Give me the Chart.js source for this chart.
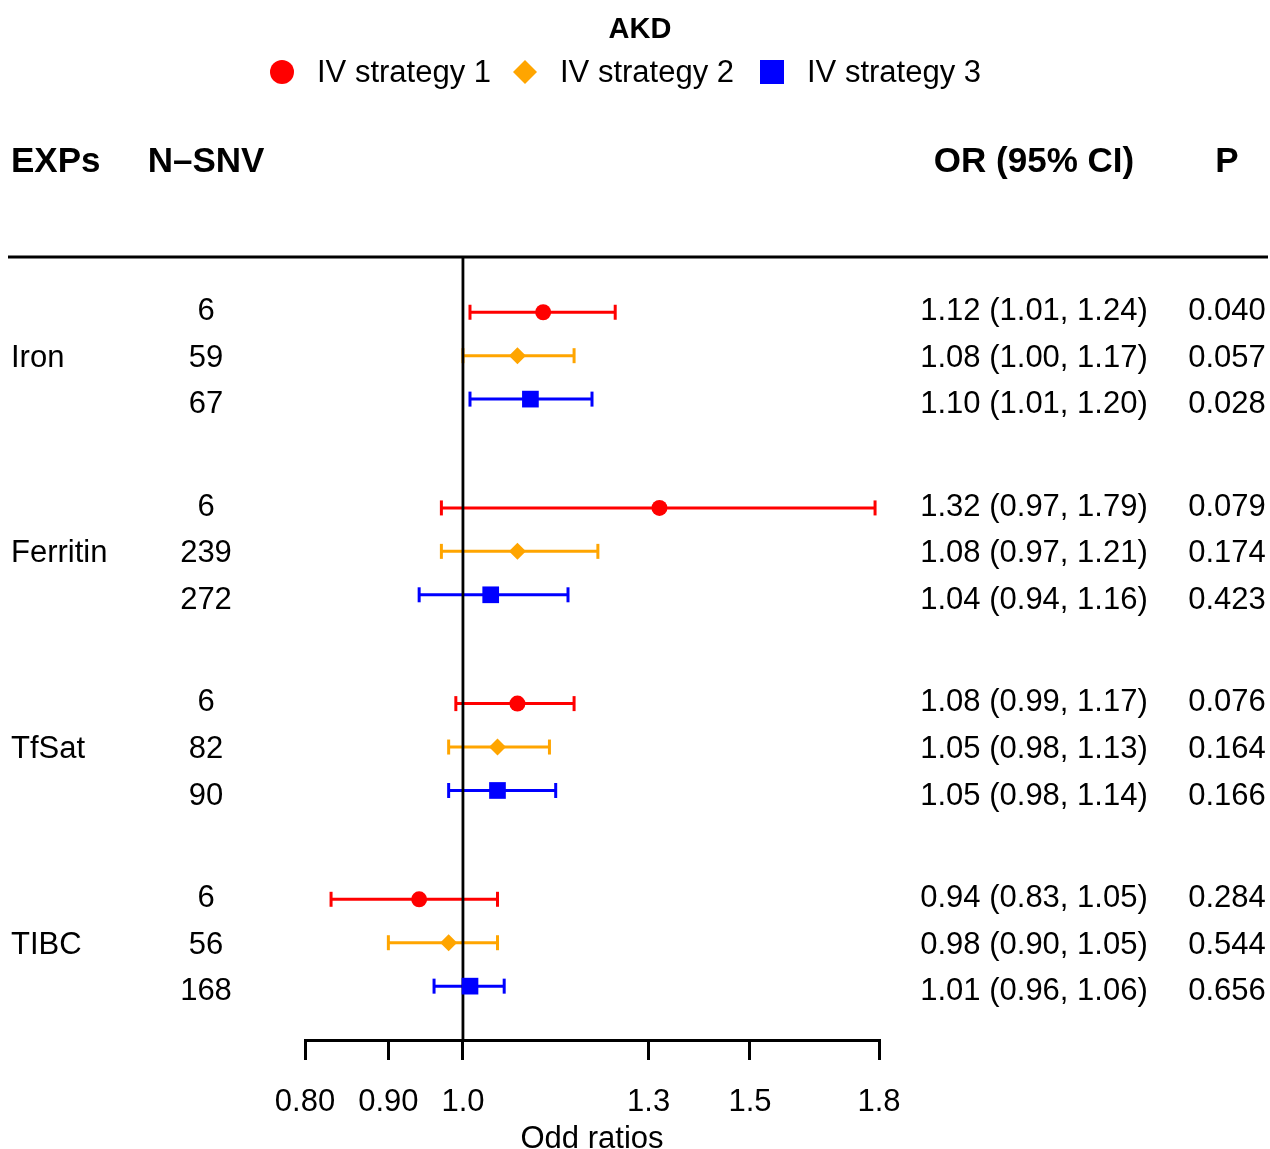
<!DOCTYPE html>
<html>
<head>
<meta charset="utf-8">
<script src="https://cdn.jsdelivr.net/npm/chart.js@4.4.1/dist/chart.umd.min.js"></script>
<style>
  html, body { margin: 0; padding: 0; background: #fff; overflow: hidden; }
  canvas { display: block; }
</style>
</head>
<body>
<canvas id="forest" width="1270" height="1170"></canvas>
<script>
// ----------------------
// DATA
// ----------------------

const exposures = ["Iron", "Ferritin", "TfSat", "TIBC"];
const strategyNames = ["IV strategy 1", "IV strategy 2", "IV strategy 3"];

// one value per exposure, in the order above
const snvS1 = [6, 6, 6, 6];
const snvS2 = [59, 239, 82, 56];
const snvS3 = [67, 272, 90, 168];

const orS1 = [1.12, 1.32, 1.08, 0.94];
const orS2 = [1.08, 1.08, 1.05, 0.98];
const orS3 = [1.10, 1.04, 1.05, 1.01];

const lowS1 = [1.01, 0.97, 0.99, 0.83];
const lowS2 = [1.00, 0.97, 0.98, 0.90];
const lowS3 = [1.01, 0.94, 0.98, 0.96];

const upS1 = [1.24, 1.79, 1.17, 1.05];
const upS2 = [1.17, 1.21, 1.13, 1.05];
const upS3 = [1.20, 1.16, 1.14, 1.06];

const pS1 = [0.040, 0.079, 0.076, 0.284];
const pS2 = [0.057, 0.174, 0.164, 0.544];
const pS3 = [0.028, 0.423, 0.166, 0.656];

const xTicks = [0.80, 0.90, 1.0, 1.3, 1.5, 1.8];
const xTickLabels = ["0.80", "0.90", "1.0", "1.3", "1.5", "1.8"];

// ----------------------
// LAYOUT
// ----------------------

const FONT = "'Liberation Sans', Arial, Helvetica, sans-serif";
const GROUP_STEP = 4.19;   // rows between exposure blocks
const MARKER_STEP = 0.93;  // markers sit a bit tighter than the text rows
const Y_MIN = -1.113;
const Y_MAX = 15.653;
const TEXT_NUDGE = 2.5;    // canvas 'middle' sits a touch high vs the original

const series = [
  { label: strategyNames[0], color: "#FF0000", style: "circle",  radius: 8,    legendRadius: 12, snv: snvS1, or: orS1, low: lowS1, up: upS1, p: pS1 },
  { label: strategyNames[1], color: "#FFA500", style: "rectRot", radius: 8.5,  legendRadius: 12, snv: snvS2, or: orS2, low: lowS2, up: upS2, p: pS2 },
  { label: strategyNames[2], color: "#0000FF", style: "rect",    radius: 11.8, legendRadius: 17, snv: snvS3, or: orS3, low: lowS3, up: upS3, p: pS3 }
];

function textRow(g, s) { return g * GROUP_STEP + s; }
function markerRow(g, s) { return g * GROUP_STEP + 1 + (s - 1) * MARKER_STEP; }

// ----------------------
// DATASETS
// ----------------------

const datasets = [];

// confidence intervals with end caps
series.forEach((sr, s) => {
  exposures.forEach((e, g) => {
    const yv = markerRow(g, s);
    datasets.push({
      data: [{ x: sr.low[g], y: yv }, { x: sr.up[g], y: yv }],
      showLine: true,
      borderColor: sr.color,
      borderWidth: 3,
      pointStyle: "line",
      pointRotation: 90,
      pointRadius: 7.5,
      pointBorderWidth: 3,
      pointBorderColor: sr.color,
      order: 2
    });
  });
});

// null line at OR = 1
datasets.push({
  data: [{ x: 1, y: Y_MIN }, { x: 1, y: Y_MAX }],
  showLine: true,
  borderColor: "#000",
  borderWidth: 2.8,
  pointRadius: 0,
  order: 1
});

// point estimates
series.forEach((sr, s) => {
  datasets.push({
    label: sr.label,
    data: exposures.map((e, g) => ({ x: sr.or[g], y: markerRow(g, s) })),
    pointStyle: sr.style,
    pointRadius: sr.radius,
    pointBackgroundColor: sr.color,
    pointBorderWidth: 0,
    order: 0
  });
});

// ----------------------
// TEXT TABLE, TITLE, LEGEND
// ----------------------

const tablePlugin = {
  id: "forestTable",
  afterDraw(chart) {
    const { ctx, chartArea, scales } = chart;
    const y = scales.y;
    ctx.save();
    ctx.fillStyle = "#000";
    ctx.strokeStyle = "#000";
    ctx.textBaseline = "middle";

    // title
    ctx.font = "bold 29px " + FONT;
    ctx.textAlign = "center";
    ctx.fillText("AKD", 640, 30);

    // legend
    const legendX = [282, 525, 772];
    ctx.font = "31px " + FONT;
    ctx.textAlign = "left";
    series.forEach((sr, s) => {
      ctx.fillStyle = sr.color;
      ctx.beginPath();
      Chart.helpers.drawPoint(ctx, { pointStyle: sr.style, radius: sr.legendRadius, rotation: 0, borderWidth: 0 }, legendX[s], 72);
      ctx.fillStyle = "#000";
      ctx.fillText(sr.label, legendX[s] + 35, 73.5);
    });

    // column headers
    ctx.font = "bold 35px " + FONT;
    ctx.textAlign = "left";
    ctx.fillText("EXPs", 11, 162);
    ctx.textAlign = "center";
    ctx.fillText("N–SNV", 206, 162);
    ctx.fillText("OR (95% CI)", 1034, 162);
    ctx.fillText("P", 1227, 162);

    // header rule
    ctx.lineWidth = 3;
    ctx.beginPath();
    ctx.moveTo(8, chartArea.top);
    ctx.lineTo(1268, chartArea.top);
    ctx.stroke();

    // rows
    ctx.font = "31px " + FONT;
    exposures.forEach((name, g) => {
      ctx.textAlign = "left";
      ctx.fillText(name, 11, y.getPixelForValue(textRow(g, 1)) + TEXT_NUDGE);
      series.forEach((sr, s) => {
        const py = y.getPixelForValue(textRow(g, s)) + TEXT_NUDGE;
        ctx.textAlign = "center";
        ctx.fillText(String(sr.snv[g]), 206, py);
        ctx.fillText(sr.or[g].toFixed(2) + " (" + sr.low[g].toFixed(2) + ", " + sr.up[g].toFixed(2) + ")", 1034, py);
        ctx.fillText(sr.p[g].toFixed(3), 1227, py);
      });
    });
    ctx.restore();
  }
};

// ----------------------
// CHART
// ----------------------

const chart = new Chart(document.getElementById("forest").getContext("2d"), {
  type: "scatter",
  data: { datasets: datasets },
  options: {
    responsive: false,
    animation: false,
    events: [],
    layout: { padding: { left: 305, right: 391, top: 257, bottom: 15.5 } },
    plugins: {
      legend: { display: false },
      tooltip: { enabled: false }
    },
    scales: {
      x: {
        type: "logarithmic",
        min: 0.8,
        max: 1.8,
        bounds: "data",
        afterBuildTicks: scale => { scale.ticks = xTicks.map(v => ({ value: v })); },
        ticks: {
          callback: (v, i) => xTickLabels[i],
          autoSkip: false,
          maxRotation: 0,
          color: "#000",
          padding: 26.75,
          font: { family: FONT, size: 31, lineHeight: 1 }
        },
        grid: { drawOnChartArea: false, drawTicks: true, tickLength: 20, color: "#000", lineWidth: 3 },
        border: { display: true, color: "#000", width: 3 },
        title: {
          display: true,
          text: "Odd ratios",
          color: "#000",
          font: { family: FONT, size: 31, lineHeight: 1 },
          padding: { top: -21, bottom: 0 }
        }
      },
      y: { type: "linear", min: Y_MIN, max: Y_MAX, reverse: true, display: false }
    }
  },
  plugins: [tablePlugin]
});
</script>
</body>
</html>
